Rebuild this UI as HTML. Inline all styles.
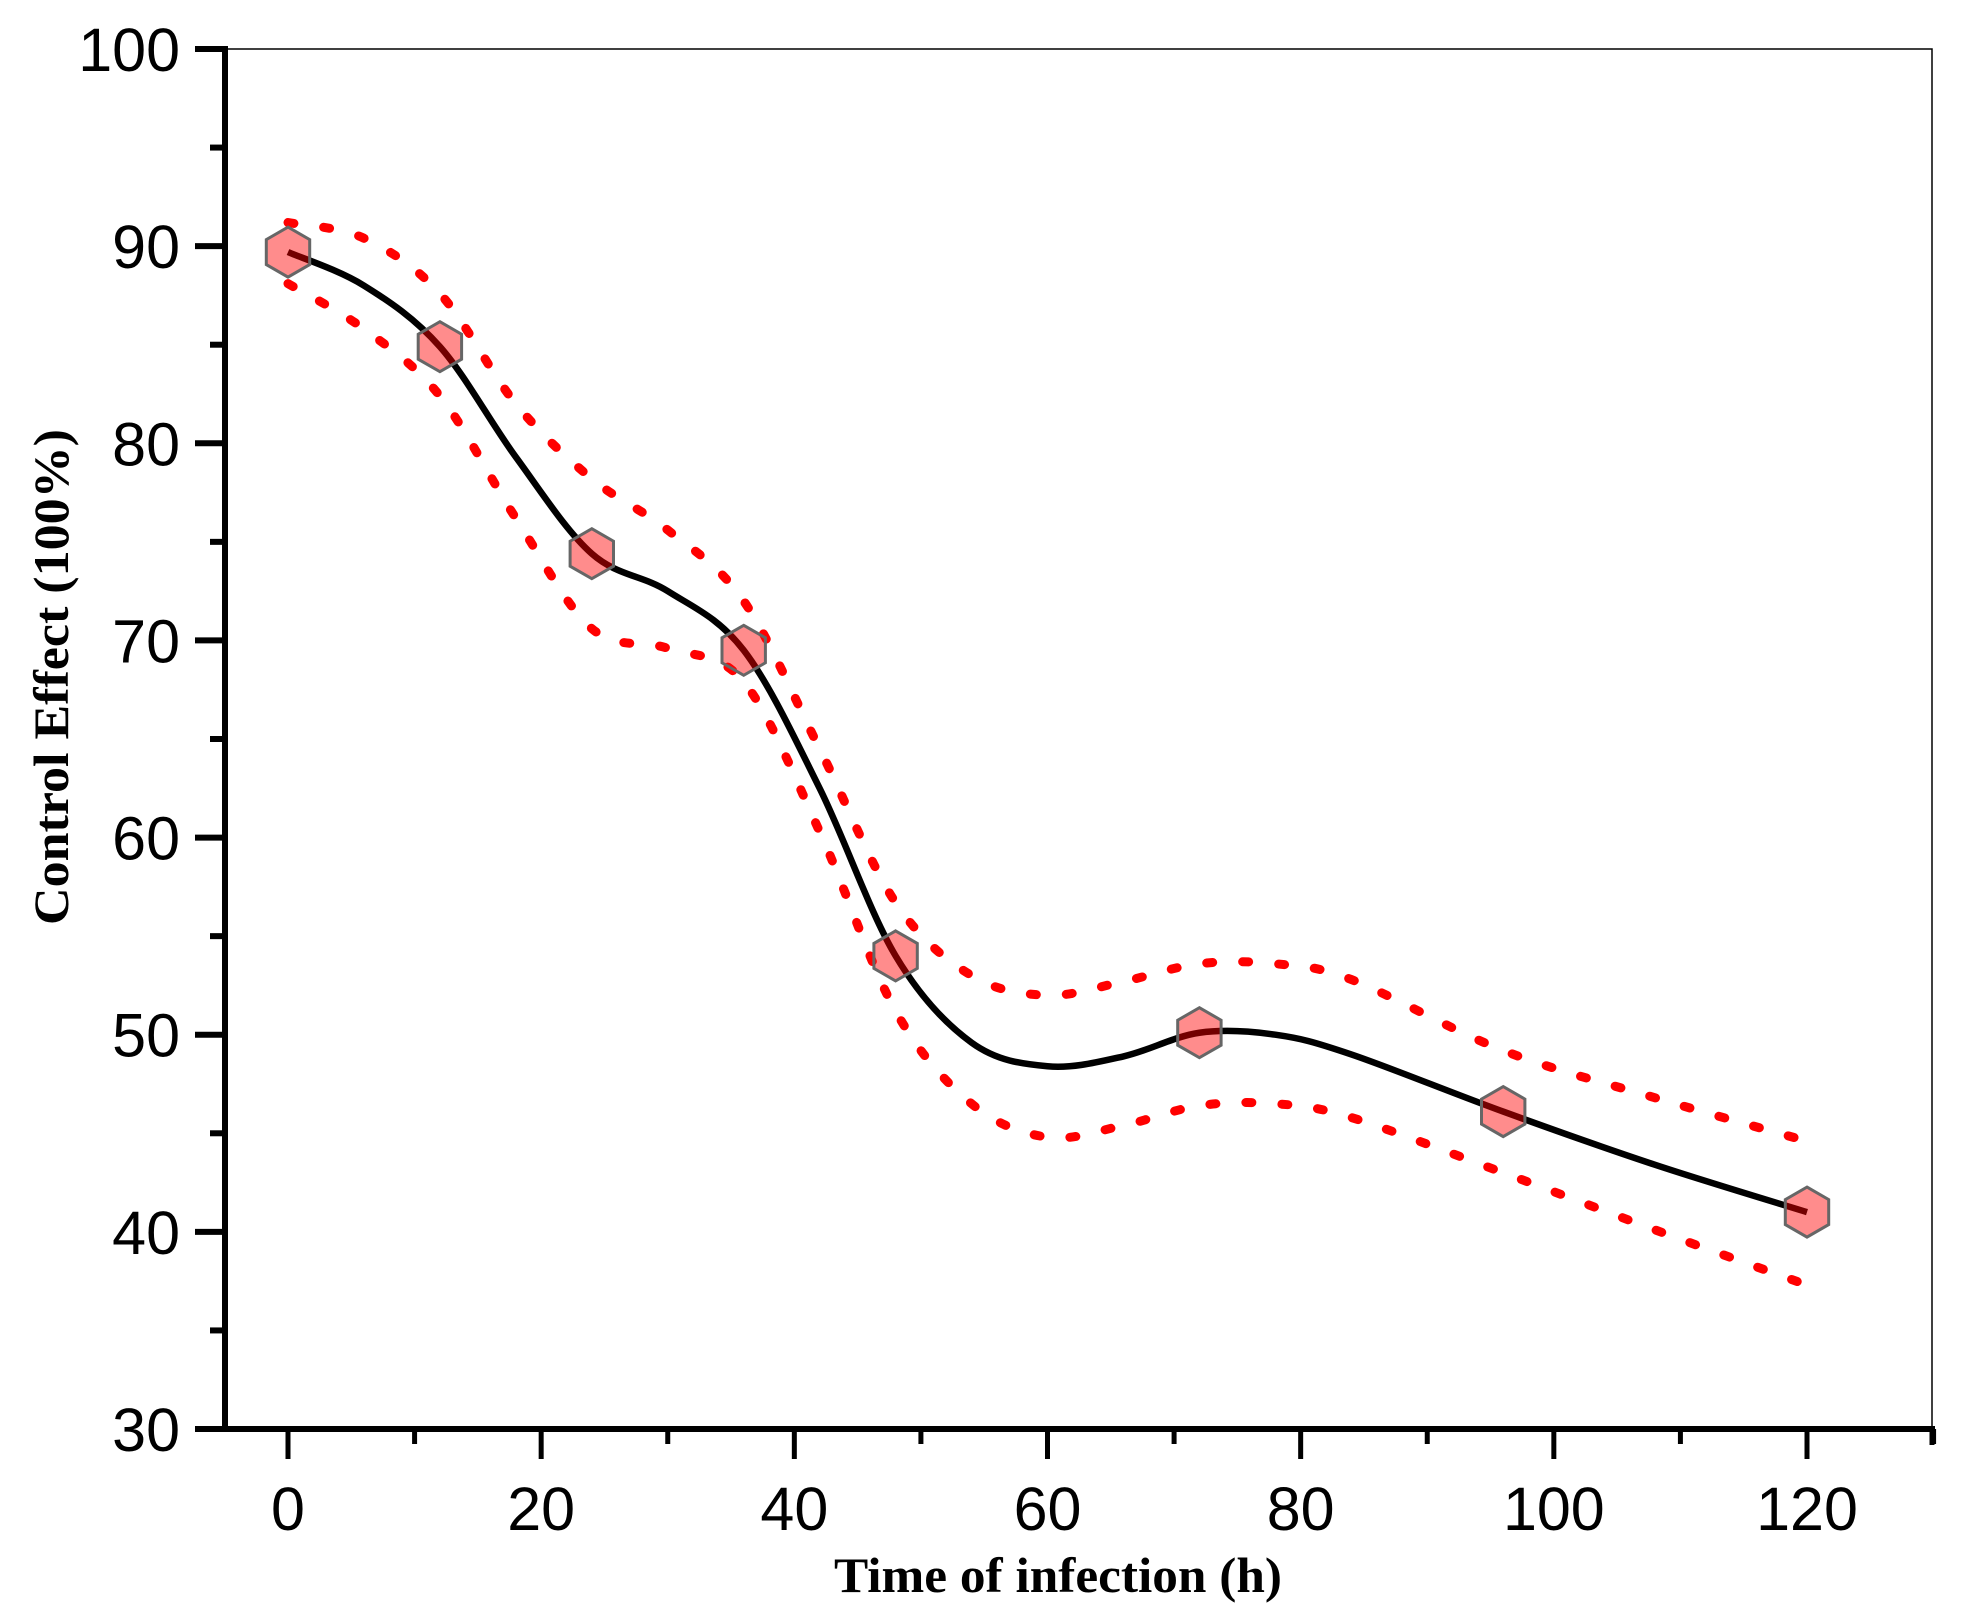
<!DOCTYPE html>
<html><head><meta charset="utf-8"><style>html,body{margin:0;padding:0;background:#fff}svg{display:block}</style></head>
<body>
<svg id="chart" width="1969" height="1608" viewBox="0 0 1969 1608" xmlns="http://www.w3.org/2000/svg">
<g id="axes"></g>
<g id="series"></g>
<text x="1058" y="1592" text-anchor="middle" font-family="Liberation Serif, serif" font-weight="bold" font-size="50" textLength="448" lengthAdjust="spacingAndGlyphs">Time of infection (h)</text>
<text transform="translate(68,677) rotate(-90)" text-anchor="middle" font-family="Liberation Serif, serif" font-weight="bold" font-size="50" textLength="496" lengthAdjust="spacingAndGlyphs">Control Effect (100%)</text>
</svg>
<script>
const times = [0, 12, 24, 36, 48, 72, 96, 120];
const effects = [89.7, 84.9, 74.4, 69.5, 54.0, 50.1, 46.1, 41.0];
const fitX = [0, 6, 12, 18, 24, 30, 36, 42, 48, 54, 60, 66, 72, 78, 84, 96, 108, 120];
const fitY = [89.7, 88.0, 84.9, 79.3, 74.4, 72.5, 69.5, 62.5, 54.0, 49.6, 48.4, 48.9, 50.1, 50.0, 49.0, 46.1, 43.4, 41.0];
const upperY = [91.2, 90.4, 87.6, 82.0, 78.2, 75.6, 72.0, 64.5, 56.7, 53.0, 52.0, 52.7, 53.6, 53.6, 52.8, 49.2, 46.8, 44.6];
const lowerY = [88.1, 85.8, 82.4, 76.2, 70.6, 69.6, 67.9, 60.3, 51.2, 46.5, 44.8, 45.4, 46.4, 46.5, 45.8, 43.0, 40.1, 37.3];
const xTicks = [0, 20, 40, 60, 80, 100, 120];
const yTicks = [30, 40, 50, 60, 70, 80, 90, 100];

const X0 = 225, X1 = 1932, Y0 = 1429, Y1 = 49;
function sx(v){ return 288 + (v - 0) * (1807 - 288) / 120; }
function sy(v){ return Y0 - (v - 30) * (Y0 - Y1) / 70; }
const NS = 'http://www.w3.org/2000/svg';
function mk(tag, parent, attrs){ const e = document.createElementNS(NS, tag); for (const k in attrs) e.setAttribute(k, attrs[k]); parent.appendChild(e); return e; }
const axes = document.getElementById('axes');
const series = document.getElementById('series');

let f = mk('rect', axes, {x:X0, y:Y1, width:X1-X0, height:Y0-Y1, fill:'none', stroke:'#000', 'stroke-width':1.5});


let la = mk('line', axes, {x1:X0, y1:Y1-3, x2:X0, y2:Y0+3, stroke:'#000', 'stroke-width':6});


let ba = mk('line', axes, {x1:X0-3, y1:Y0, x2:X1+3, y2:Y0, stroke:'#000', 'stroke-width':6});


let rc = mk('line', axes, {x1:X1, y1:Y0, x2:X1, y2:Y0+16, stroke:'#000', 'stroke-width':5});



for (let v = 30; v <= 100; v += 5) {
  const major = v % 10 === 0;
  const t = mk('line', axes, {x1:X0 - (major ? 30 : 15), y1:sy(v), x2:X0, y2:sy(v), stroke:'#000', 'stroke-width':6});
  
  
}
yTicks.forEach(v => {
  const t = mk('text', axes, {x:180, y:sy(v)+22, 'text-anchor':'end', 'font-family':'Liberation Sans, sans-serif', 'font-size':61});
  t.textContent = v;
  
  
});
for (let v = 0; v <= 130; v += 10) {
  const major = v % 20 === 0;
  const t = mk('line', axes, {x1:sx(v), y1:Y0, x2:sx(v), y2:Y0 + (major ? 30 : 15), stroke:'#000', 'stroke-width':5});
  
  
}
xTicks.forEach(v => {
  const t = mk('text', axes, {x:sx(v), y:1530, 'text-anchor':'middle', 'font-family':'Liberation Sans, sans-serif', 'font-size':61});
  t.textContent = v;
  
  
});

function pathFrom(xs, ys){
  const p = xs.map((x,i)=>[sx(x), sy(ys[i])]);
  let d = 'M' + p[0][0] + ',' + p[0][1];
  for (let i = 0; i < p.length - 1; i++) {
    const p0 = p[i-1] || p[i], p1 = p[i], p2 = p[i+1], p3 = p[i+2] || p2;
    const c1 = [p1[0] + (p2[0]-p0[0])/6, p1[1] + (p2[1]-p0[1])/6];
    const c2 = [p2[0] - (p3[0]-p1[0])/6, p2[1] - (p3[1]-p1[1])/6];
    d += ' C' + c1 + ' ' + c2 + ' ' + p2;
  }
  return d;
}
const up = mk('path', series, {d:pathFrom(fitX, upperY), fill:'none', stroke:'#ff0000', 'stroke-width':9, 'stroke-linecap':'round', 'stroke-dasharray':'6 30'});


const lo = mk('path', series, {d:pathFrom(fitX, lowerY), fill:'none', stroke:'#ff0000', 'stroke-width':9, 'stroke-linecap':'round', 'stroke-dasharray':'6 30'});


const fit = mk('path', series, {d:pathFrom(fitX, fitY), fill:'none', stroke:'#000', 'stroke-width':6.5});



times.forEach((t, i) => {
  const cx = sx(t), cy = sy(effects[i]), r = 25;
  let pts = [];
  for (let k = 0; k < 6; k++) { const a = Math.PI/180*(60*k - 90); pts.push((cx + r*Math.cos(a)).toFixed(1) + ',' + (cy + r*Math.sin(a)).toFixed(1)); }
  const h = mk('polygon', series, {points:pts.join(' '), fill:'rgba(255,0,0,0.45)', stroke:'#666', 'stroke-width':3});
  
  
});
</script>
</body></html>
